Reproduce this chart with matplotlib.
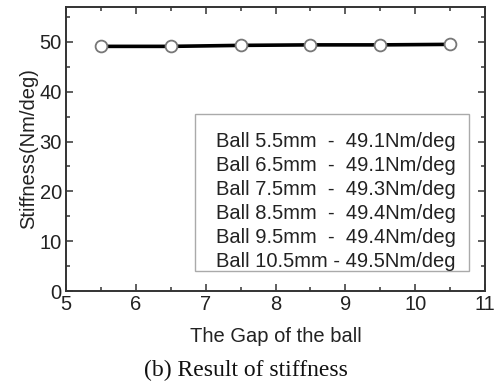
import matplotlib.pyplot as plt
from matplotlib.patches import Rectangle
from matplotlib.ticker import MultipleLocator

# ball gap (mm) vs. stiffness (Nm/deg)
gap = [5.5, 6.5, 7.5, 8.5, 9.5, 10.5]
stiffness = [49.1, 49.1, 49.3, 49.4, 49.4, 49.5]
labels = [
    "Ball 5.5mm  -  49.1Nm/deg",
    "Ball 6.5mm  -  49.1Nm/deg",
    "Ball 7.5mm  -  49.3Nm/deg",
    "Ball 8.5mm  -  49.4Nm/deg",
    "Ball 9.5mm  -  49.4Nm/deg",
    "Ball 10.5mm - 49.5Nm/deg",
]

plt.rcParams["font.family"] = ["Liberation Sans", "DejaVu Sans"]

fig = plt.figure(figsize=(4.94, 3.83), dpi=100)
ax = fig.add_axes([0.1336, 0.2402, 0.8482, 0.7415])

ax.plot(gap, stiffness, color="black", lw=2.6, marker="o", ms=8.5,
        mfc="white", mec="#777777", mew=1.3, zorder=3)

ax.set_xlim(5, 11)
ax.set_ylim(0, 57)
ax.xaxis.set_major_locator(MultipleLocator(1))
ax.xaxis.set_minor_locator(MultipleLocator(0.5))
ax.yaxis.set_major_locator(MultipleLocator(10))
ax.yaxis.set_minor_locator(MultipleLocator(5))
ax.tick_params(which="both", direction="in", top=True, right=True,
               width=1.1, color="#333333", labelsize=14.5, labelcolor="#222222")
ax.tick_params(which="major", length=5, pad=3)
ax.tick_params(which="minor", length=3)
ax.tick_params(axis="y", pad=3)
for sp in ax.spines.values():
    sp.set_linewidth(1.4)
    sp.set_color("#333333")

ax.set_xlabel("The Gap of the ball", fontsize=14.5, color="#222222", labelpad=9)
ax.set_ylabel("Stiffness(Nm/deg)", fontsize=14.5, color="#222222", labelpad=1)

# value box
ax.add_patch(Rectangle((0.308, 0.0704), 0.654, 0.5526, transform=ax.transAxes,
                       facecolor="white", edgecolor="#aaaaaa", lw=1.0, zorder=4))
for i, lab in enumerate(labels):
    ax.text(0.358, 0.525 - i * 0.0845, lab, transform=ax.transAxes,
            ha="left", va="center", fontsize=14.5, color="#222222", zorder=5)

fig.text(0.497, 0.033, "(b) Result of stiffness", ha="center", va="center",
         fontsize=17, family=["Liberation Serif", "DejaVu Serif"], color="#111111")

fig.savefig("out.png", dpi=100)
